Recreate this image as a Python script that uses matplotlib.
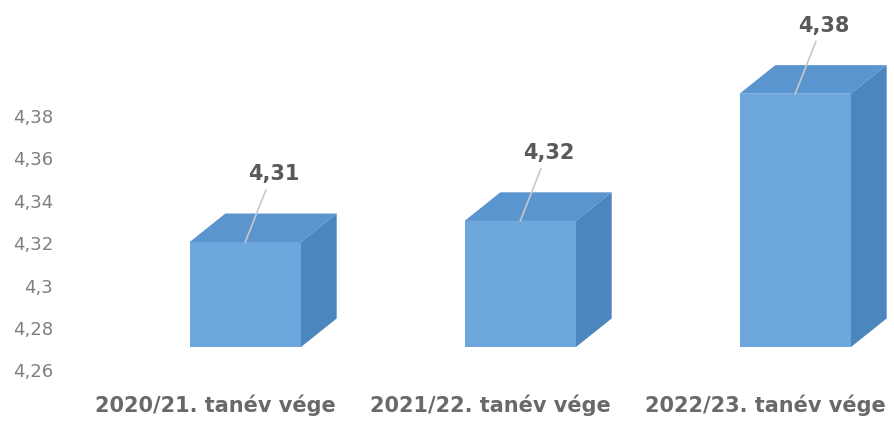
import matplotlib.pyplot as plt
from matplotlib.patches import Polygon

categories = ["2020/21. tanév vége", "2021/22. tanév vége", "2022/23. tanév vége"]
values = [4.31, 4.32, 4.38]
value_labels = ["4,31", "4,32", "4,38"]
yticks = [4.26, 4.28, 4.30, 4.32, 4.34, 4.36, 4.38]
ytick_labels = ["4,26", "4,28", "4,3", "4,32", "4,34", "4,36", "4,38"]

# 3D look (Excel-like): front face shifted, back face offset up/right
front_dx = 0.11   # front face centre relative to category
bar_w = 0.405
depth_x = 0.13
depth_y = 0.0135
proj_shift = 0.0105  # front face drawn slightly above value (projection)
floor = 4.2605

front_c = "#6da7dd"
top_c = "#5a95cf"
side_c = "#4c86bf"

fig = plt.figure(figsize=(8.94, 4.24), dpi=100)
ax = fig.add_axes([60 / 894, 39 / 424, 1 - 60 / 894, 385 / 424])
ax.set_xlim((60 - 215) / 275, (894 - 215) / 275)
ax.set_ylim(4.38 - 269 * 0.02 / 42.4, 4.38 + 116 * 0.02 / 42.4)

for i, v in enumerate(values):
    x0 = i + front_dx - bar_w / 2
    x1 = x0 + bar_w
    bot = floor + proj_shift
    top = v + proj_shift
    ax.bar(i + front_dx, top - bot, bottom=bot, width=bar_w, color=front_c, zorder=3)
    ax.add_patch(Polygon([(x0, top), (x1, top), (x1 + depth_x, top + depth_y),
                          (x0 + depth_x, top + depth_y)], closed=True,
                         facecolor=top_c, edgecolor="none", zorder=3))
    ax.add_patch(Polygon([(x1, bot), (x1 + depth_x, bot + depth_y),
                          (x1 + depth_x, top + depth_y), (x1, top)], closed=True,
                         facecolor=side_c, edgecolor="none", zorder=3))
    # data label with leader line
    lx = i + front_dx + 0.105
    ly = top + 68 * 0.02 / 42.4
    ax.text(lx, ly, value_labels[i], ha="center", va="center", fontsize=15,
            fontweight="bold", color="#595959", zorder=5)
    ax.plot([lx - 0.03, i + front_dx], [ly - 0.0075, top], color="#c8c8c8",
            lw=1.2, zorder=4)

ax.set_yticks(yticks)
ax.set_yticklabels(ytick_labels, fontsize=13, color="#7f7f7f")
ax.set_xticks(range(len(categories)))
ax.set_xticklabels(categories, fontsize=15, fontweight="bold", color="#696969")
ax.tick_params(axis="both", length=0)
ax.tick_params(axis="x", pad=7)
ax.tick_params(axis="y", pad=5)
for sp in ax.spines.values():
    sp.set_visible(False)

fig.savefig("out.png", dpi=100, facecolor="white")
